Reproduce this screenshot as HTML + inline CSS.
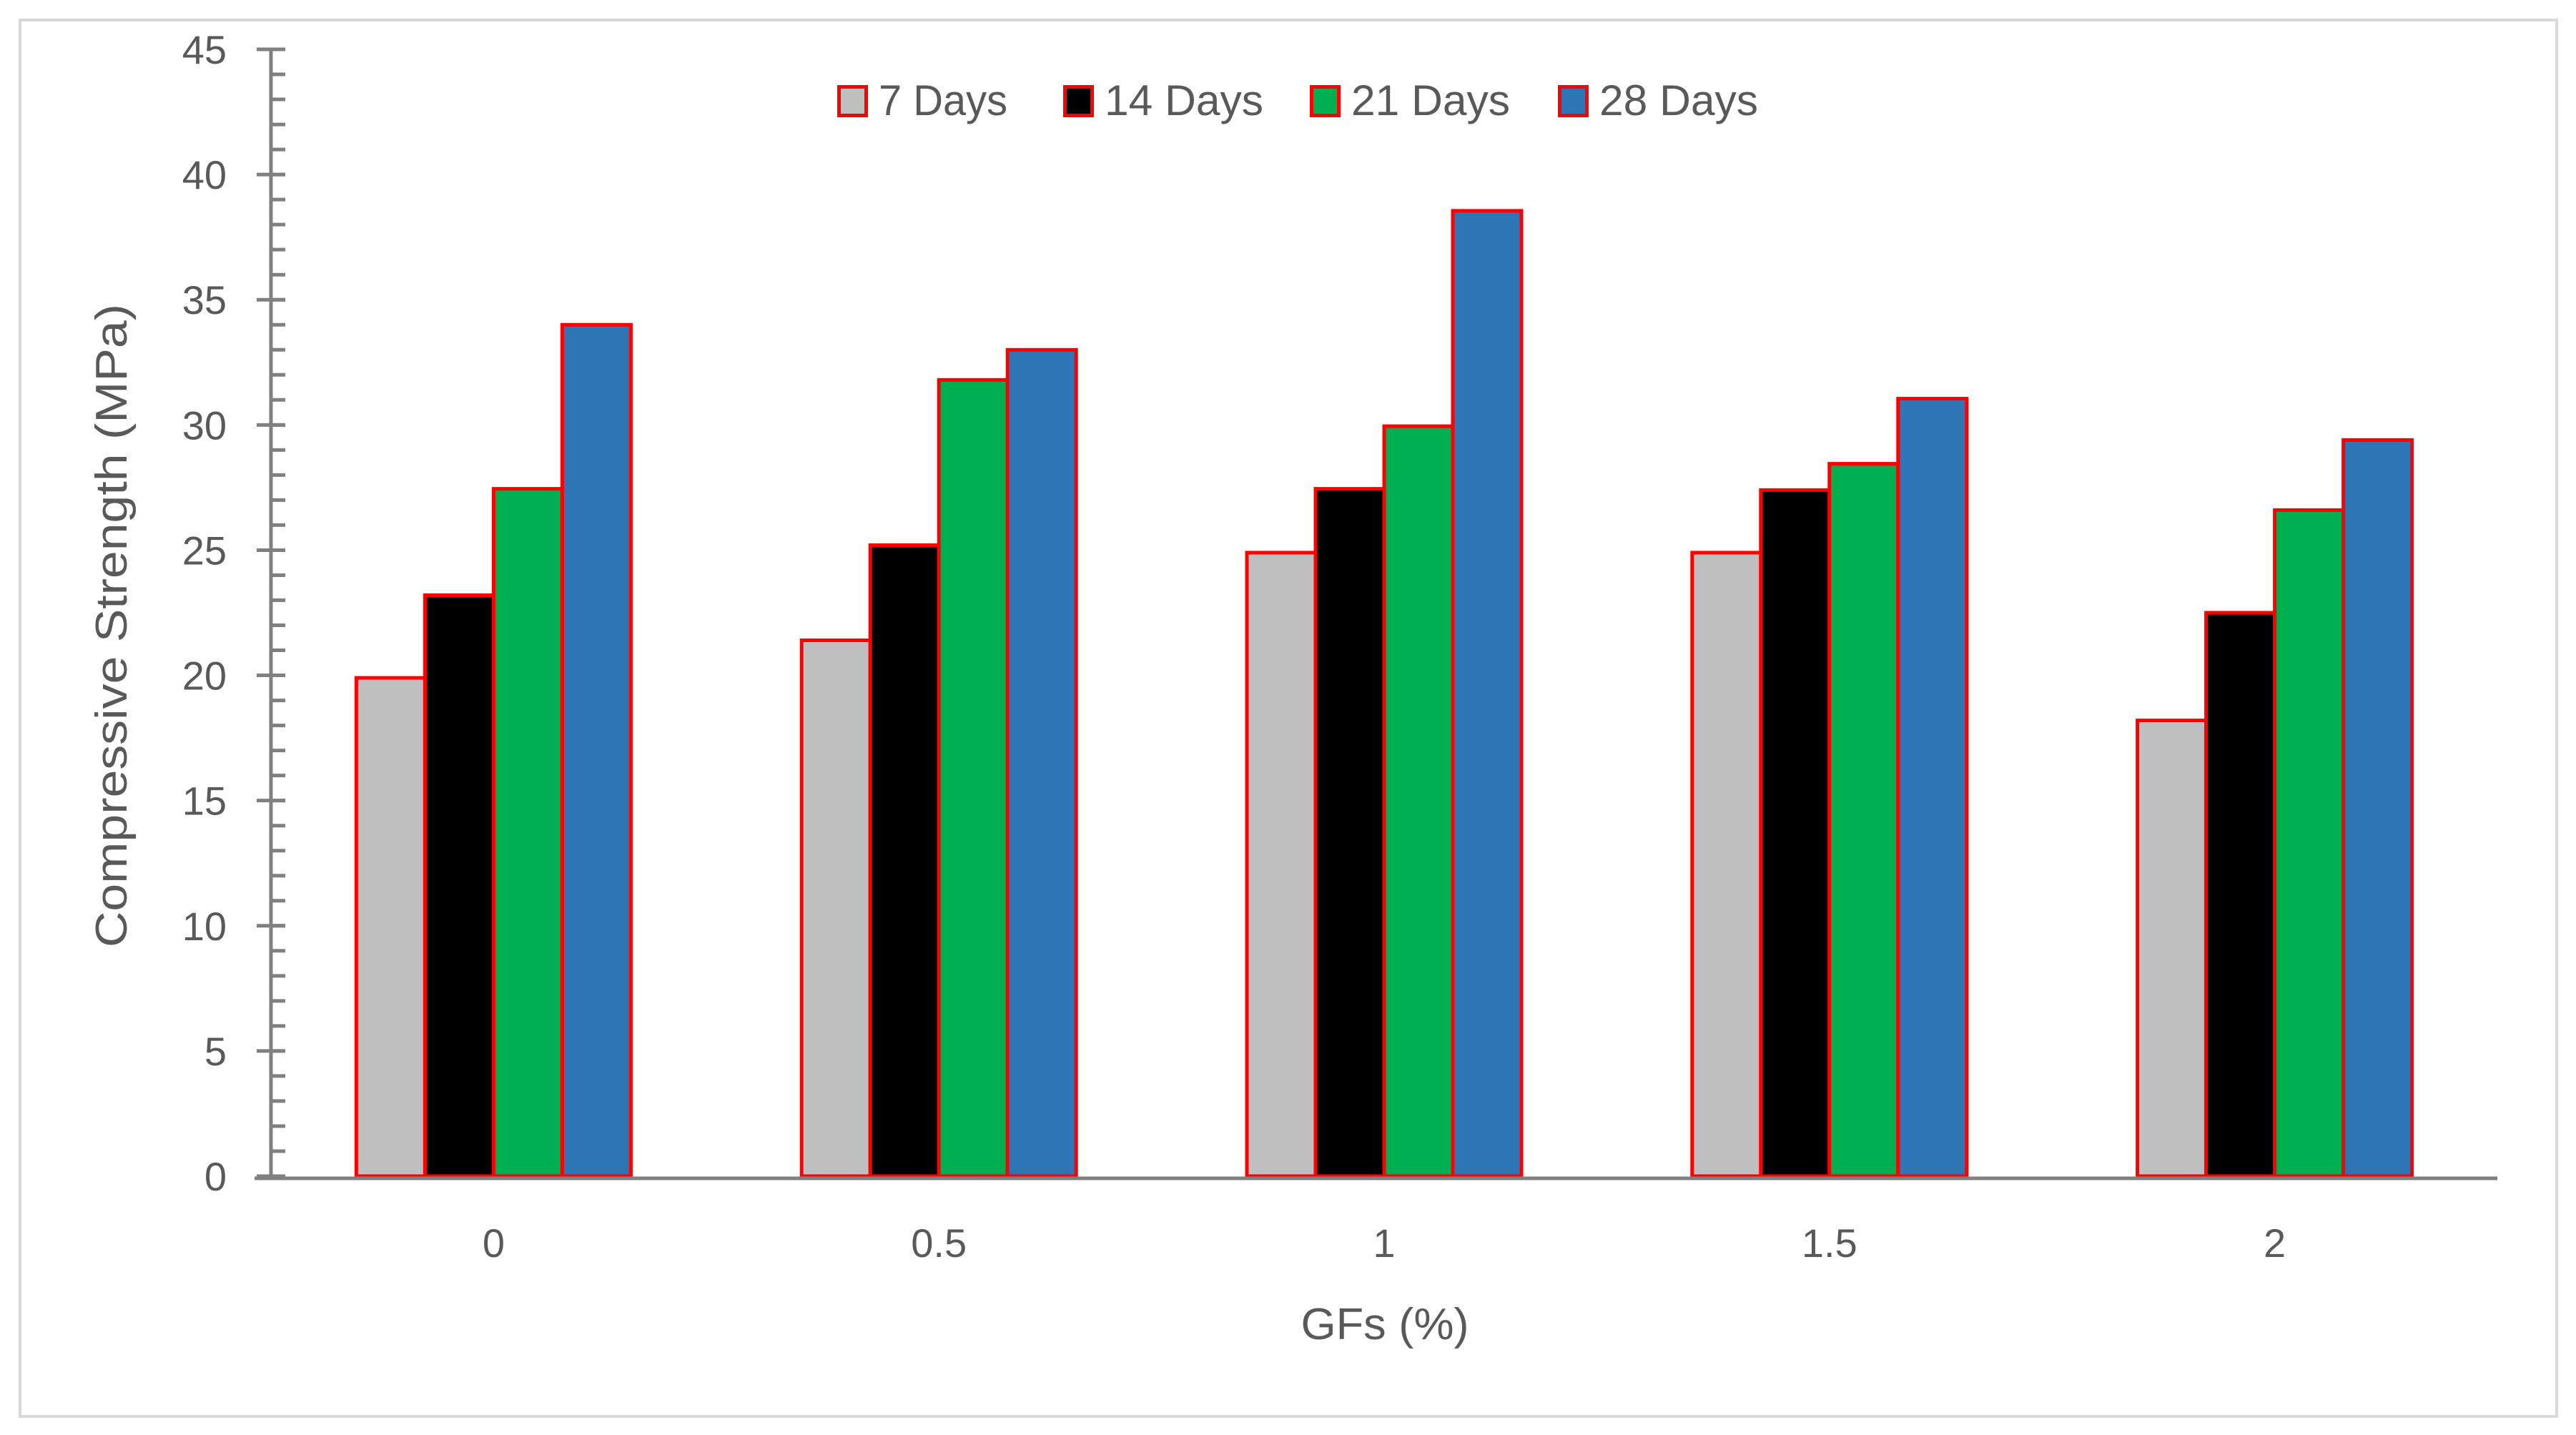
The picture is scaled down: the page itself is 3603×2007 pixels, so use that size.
<!DOCTYPE html>
<html><head><meta charset="utf-8"><style>
html,body{margin:0;padding:0;background:#fff;}
svg{display:block;}
text{font-family:"Liberation Sans",sans-serif;fill:#595959;}
</style></head><body>
<svg id="chart" width="3603" height="2007" viewBox="0 0 3603 2007" xmlns="http://www.w3.org/2000/svg">
<rect x="28" y="28" width="3548" height="1953" fill="#fff" stroke="#d9d9d9" stroke-width="4"/>
<g id="bars"></g>
<g id="axes"></g>
<text transform="translate(177,875) rotate(-90)" text-anchor="middle" font-size="62" textLength="900" lengthAdjust="spacingAndGlyphs">Compressive Strength (MPa)</text>
<text x="1937" y="1873" text-anchor="middle" font-size="62" textLength="235" lengthAdjust="spacingAndGlyphs">GFs (%)</text>
<g id="legend"></g>
</svg>
<script>
const categories = ["0", "0.5", "1", "1.5", "2"];
const seriesNames = ["7 Days", "14 Days", "21 Days", "28 Days"];
const days7 = [19.9, 21.4, 24.9, 24.9, 18.2];
const days14 = [23.2, 25.2, 27.45, 27.4, 22.5];
const days21 = [27.45, 31.8, 29.95, 28.45, 26.6];
const days28 = [34.0, 33.0, 38.55, 31.05, 29.4];
const yTicks = [0, 5, 10, 15, 20, 25, 30, 35, 40, 45];

const series = [days7, days14, days21, days28];
const colors = ["#bfbfbf", "#000000", "#00b050", "#2e75b6"];
const NS = "http://www.w3.org/2000/svg";
const x0 = 379, x1 = 3493, yBase = 1645, yTop = 69, yMax = 45;
const catW = (x1 - x0) / categories.length;
const barW = 96;
function yScale(v){ return yBase - (v / yMax) * (yBase - yTop); }
function xCenter(i){ return x0 + catW * (i + 0.5); }
function mk(tag, attrs){ const e = document.createElementNS(NS, tag); for (const k in attrs) e.setAttribute(k, attrs[k]); return e; }

const bars = document.getElementById('bars');
series.forEach((vals, s) => {
  vals.forEach((v, i) => {
    const left = xCenter(i) - 2 * barW + s * barW;
    const r = mk('rect', {x: left, y: yScale(v), width: barW, height: yBase - yScale(v), fill: colors[s], stroke: '#ff0000', 'stroke-width': 5});
    
    
    bars.appendChild(r);
  });
});

const axes = document.getElementById('axes');
// minor ticks every 1 unit
for (let v = 0; v <= yMax; v++) {
  const t = mk('line', {x1: x0, x2: x0 + 20, y1: yScale(v), y2: yScale(v), stroke: '#808080', 'stroke-width': 5});
  
  
  axes.appendChild(t);
}
yTicks.forEach(v => {
  const t = mk('line', {x1: x0 - 20, x2: x0 + 20, y1: yScale(v), y2: yScale(v), stroke: '#808080', 'stroke-width': 5});
  
  
  axes.appendChild(t);
  const l = mk('text', {x: 317, y: yScale(v) + 20, 'text-anchor': 'end', 'font-size': 56});
  l.textContent = String(v);
  
  
  axes.appendChild(l);
});
const ya = mk('line', {x1: x0, x2: x0, y1: yTop, y2: yBase + 3, stroke: '#808080', 'stroke-width': 5});


axes.appendChild(ya);
const xa = mk('line', {x1: 356, x2: x1, y1: yBase + 3, y2: yBase + 3, stroke: '#808080', 'stroke-width': 5});


axes.appendChild(xa);
categories.forEach((c, i) => {
  const l = mk('text', {x: xCenter(i), y: 1758, 'text-anchor': 'middle', 'font-size': 56});
  l.textContent = c;
  
  
  axes.appendChild(l);
});

const legend = document.getElementById('legend');
const swX = [1171, 1487, 1832, 2179];
const txW = [180, 222, 222, 222];
seriesNames.forEach((n, s) => {
  const g = mk('g', {});
  
  
  g.appendChild(mk('rect', {x: swX[s] + 2.5, y: 121.5, width: 38, height: 40, fill: colors[s], stroke: '#ff0000', 'stroke-width': 5}));
  const t = mk('text', {x: swX[s] + 58, y: 161, 'font-size': 60, textLength: txW[s], lengthAdjust: 'spacingAndGlyphs'});
  t.textContent = n;
  g.appendChild(t);
  legend.appendChild(g);
});
</script>
</body></html>
